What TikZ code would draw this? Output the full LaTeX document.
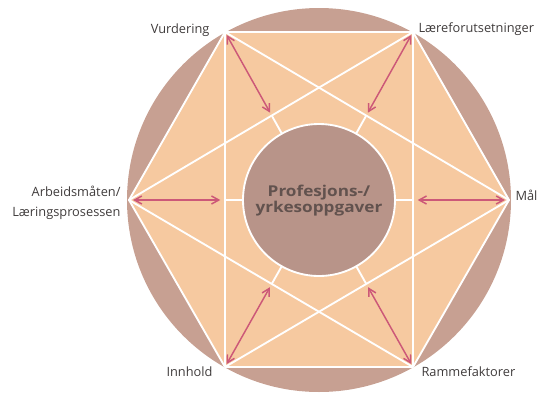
\documentclass[tikz,border=0pt]{standalone}
\usepackage{fontspec}
\setmainfont{Open Sans}
\newfontfamily\corefont[FakeStretch=1.15]{Open Sans}
\usetikzlibrary{calc,arrows.meta}

\definecolor{ringmauve}{RGB}{199,160,146}
\definecolor{fieldpeach}{RGB}{246,201,160}
\definecolor{coremauve}{RGB}{184,148,137}
\definecolor{arrowrose}{RGB}{204,88,120}
\definecolor{labelgrey}{RGB}{64,60,60}
\definecolor{coretext}{RGB}{98,82,78}

\tikzset{every picture/.style={line width=0.75pt},
  whiteline/.style={draw=white,line width=1.4pt,line join=round},
  linkarrow/.style={draw=arrowrose,line width=1.1pt,{Straight Barb[length=5.5pt,width=6pt]}-{Straight Barb[length=5.5pt,width=6pt]}},
  cornerlabel/.style={inner sep=0pt,text=labelgrey,font=\fontsize{9.6}{14.8}\selectfont},
  coretitle/.style={inner sep=0pt,text=coretext,align=center,font=\corefont\fontsize{11.2}{12.5}\selectfont\bfseries}}

\begin{document}
\begin{tikzpicture}[x=0.75pt,y=0.75pt,yscale=-1,xscale=1]
\useasboundingbox (0,0) rectangle (544,394);

% corners of the hexagon
\coordinate (mid) at (319,200);
\coordinate (vur) at (225,32);
\coordinate (laer) at (413,32);
\coordinate (maal) at (509,200);
\coordinate (ram) at (413,367);
\coordinate (inn) at (225,367);
\coordinate (arb) at (129,200);

%Shape: Circle
\fill [ringmauve] (mid) circle [radius=192];
%Shape: Hexagon
\fill [fieldpeach] (vur) -- (laer) -- (maal) -- (ram) -- (inn) -- (arb) -- cycle;

%Straight Lines: rectangle
\draw [whiteline] (vur) -- (laer) -- (ram) -- (inn) -- cycle;
%Straight Lines: hexagon sides
\draw [whiteline] (laer) -- (maal) -- (ram);
\draw [whiteline] (inn) -- (arb) -- (vur);
%Straight Lines: the two triangles
\draw [whiteline] (vur) -- (maal) -- (inn);
\draw [whiteline] (laer) -- (arb) -- (ram);

%Straight Lines: spokes
\draw [whiteline] ($(mid)!56pt!(vur)$) -- ($(mid)!72pt!(vur)$);
\draw [whiteline] ($(mid)!56pt!(laer)$) -- ($(mid)!72pt!(laer)$);
\draw [whiteline] ($(mid)!56pt!(maal)$) -- ($(mid)!71pt!(maal)$);
\draw [whiteline] ($(mid)!56pt!(ram)$) -- ($(mid)!72pt!(ram)$);
\draw [whiteline] ($(mid)!56pt!(inn)$) -- ($(mid)!72pt!(inn)$);
\draw [whiteline] ($(mid)!56pt!(arb)$) -- ($(mid)!71pt!(arb)$);

%Shape: Circle
\draw [draw=white,line width=1.4pt,fill=coremauve] (mid) circle [radius=76];

%Straight Lines: arrows
\draw [linkarrow] ($(vur)!2.5pt!(mid)$) -- ($(mid)!75pt!(vur)$);
\draw [linkarrow] ($(laer)!2.5pt!(mid)$) -- ($(mid)!75pt!(laer)$);
\draw [linkarrow] ($(maal)!3pt!(mid)$) -- ($(mid)!74pt!(maal)$);
\draw [linkarrow] ($(ram)!2.5pt!(mid)$) -- ($(mid)!75pt!(ram)$);
\draw [linkarrow] ($(inn)!2.5pt!(mid)$) -- ($(mid)!75pt!(inn)$);
\draw [linkarrow] ($(arb)!3pt!(mid)$) -- ($(mid)!74pt!(arb)$);

% Text Node
\node [cornerlabel,anchor=base east] (vurtext) at (210,33) {Vurdering};
% Text Node
\node [cornerlabel,anchor=base west] (laertext) at (418,32.5) {Læreforutsetninger};
% Text Node
\node [cornerlabel,anchor=base west] (maaltext) at (515,200.5) {Mål};
% Text Node
\node [cornerlabel,anchor=east,align=right] (arbtext) at (121,203) {Arbeidsmåten/\\Læringsprosessen};
% Text Node
\node [cornerlabel,anchor=base east] (inntext) at (213,376) {Innhold};
% Text Node
\node [cornerlabel,anchor=base west] (ramtext) at (421,376.5) {Rammefaktorer};
% Text Node
\node [coretitle] (coretext) at (319,200.5) {Profesjons-/\\yrkesoppgaver};

\end{tikzpicture}
\end{document}
